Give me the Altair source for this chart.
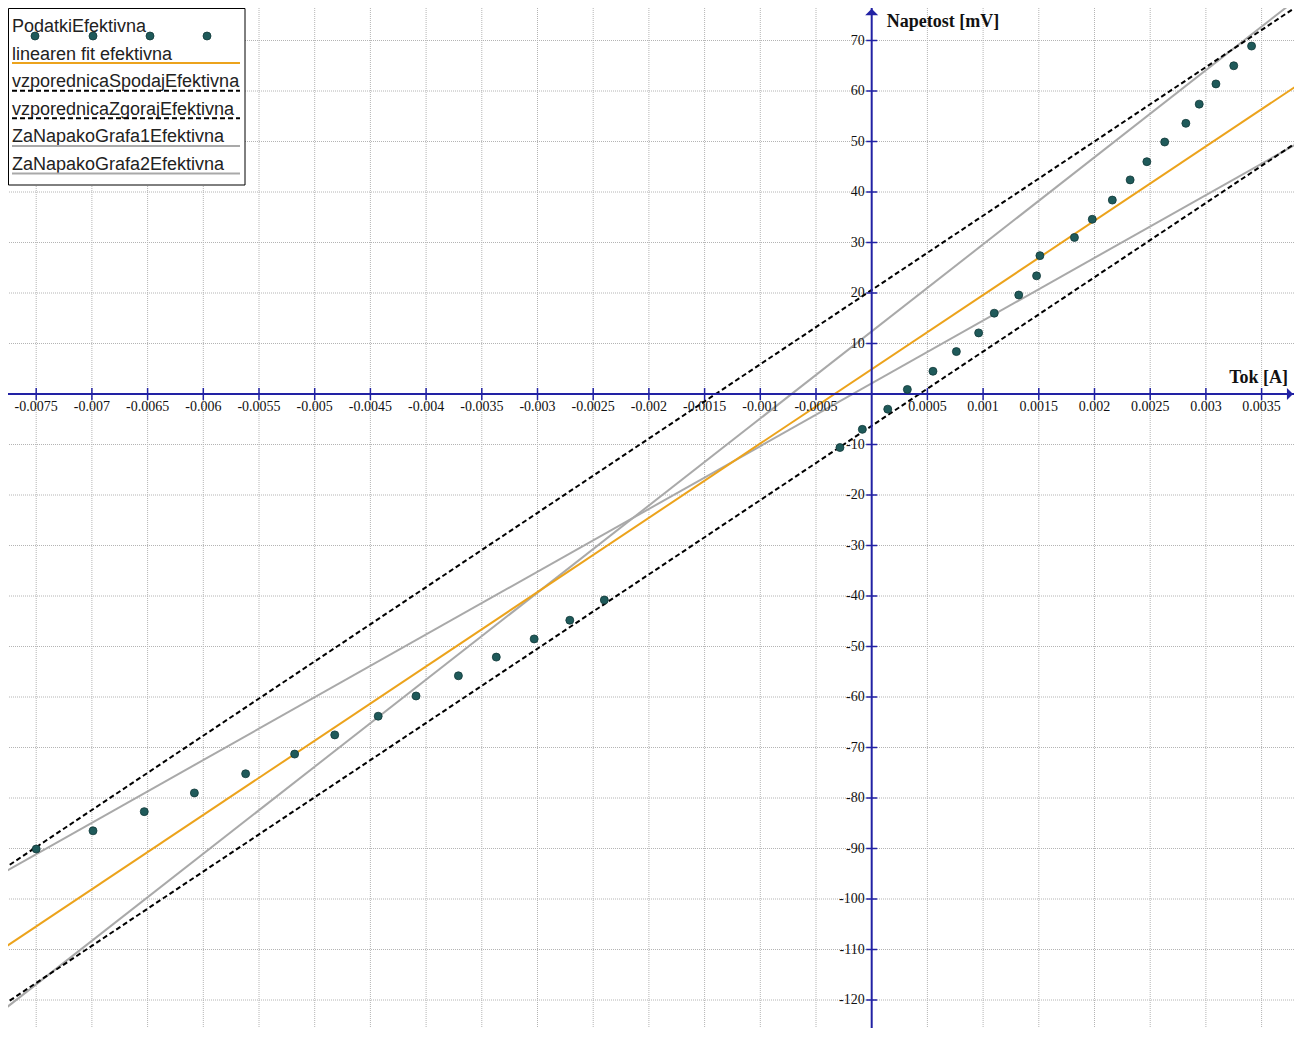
import altair as alt
import pandas as pd

# ---------------- data ----------------
tok = [-0.00750, -0.00699, -0.00653, -0.00608, -0.00562, -0.00518, -0.00482,
       -0.00443, -0.00409, -0.00371, -0.00337, -0.00303, -0.00271, -0.00240,
       -0.000285, -0.000084, 0.000144, 0.00032, 0.00055, 0.00076, 0.00096,
       0.00110, 0.00132, 0.00148, 0.00151, 0.00182, 0.00198, 0.00216, 0.00232,
       0.00247, 0.00263, 0.00282, 0.00294, 0.00309, 0.00325, 0.00341]
napetost = [-90.1, -86.5, -82.7, -79.0, -75.2, -71.3, -67.5, -63.8, -59.8,
            -55.8, -52.1, -48.5, -44.8, -40.8, -10.6, -7.0, -3.0, 0.9, 4.5,
            8.4, 12.1, 16.0, 19.6, 23.4, 27.4, 31.0, 34.6, 38.4, 42.4, 46.0,
            49.9, 53.6, 57.4, 61.4, 65.0, 68.9]

x_ticks = [-0.0075, -0.007, -0.0065, -0.006, -0.0055, -0.005, -0.0045, -0.004,
           -0.0035, -0.003, -0.0025, -0.002, -0.0015, -0.001, -0.0005,
           0.0005, 0.001, 0.0015, 0.002, 0.0025, 0.003, 0.0035]
x_tick_labels = ["-0.0075", "-0.007", "-0.0065", "-0.006", "-0.0055", "-0.005",
                 "-0.0045", "-0.004", "-0.0035", "-0.003", "-0.0025", "-0.002",
                 "-0.0015", "-0.001", "-0.0005", "0.0005", "0.001", "0.0015",
                 "0.002", "0.0025", "0.003", "0.0035"]
y_ticks = [-120, -110, -100, -90, -80, -70, -60, -50, -40, -30, -20, -10,
           10, 20, 30, 40, 50, 60, 70]
y_tick_labels = ["-120", "-110", "-100", "-90", "-80", "-70", "-60", "-50",
                 "-40", "-30", "-20", "-10", "10", "20", "30", "40", "50",
                 "60", "70"]

# straight lines: (slope mV/A, intercept mV)
fit_k, fit_n = 14710.0, 4.9
spodaj_k, spodaj_n = 14710.0, -6.3
zgoraj_k, zgoraj_n = 14710.0, 20.6
g1_k, g1_n = 17240.0, 12.4
g2_k, g2_n = 12430.0, 2.1

legend_names = ["PodatkiEfektivna", "linearen fit efektivna",
                "vzporednicaSpodajEfektivna", "vzporednicaZgorajEfektivna",
                "ZaNapakoGrafa1Efektivna", "ZaNapakoGrafa2Efektivna"]

# ---------------- layout ----------------
W, H = 1286, 1020
XPX = 111400.0   # px per A
YPX = 5.05       # px per mV
XMIN = -863.7 / XPX
XMAX = XMIN + W / XPX
YMAX = 386.0 / YPX
YMIN = YMAX - H / YPX

AX = "#2222a4"
ORANGE = "#eca31c"
GRAY = "#a9a9a9"
PT = "#1f5a5a"
GRID = "#b4b4b4"

xs = alt.Scale(domain=[XMIN, XMAX], nice=False, zero=False)
ys = alt.Scale(domain=[YMIN, YMAX], nice=False, zero=False)


def ex(f):
    return alt.X(f, type="quantitative", scale=xs, axis=None)


def ey(f):
    return alt.Y(f, type="quantitative", scale=ys, axis=None)


def line_df(k, n):
    xx = [XMIN - 0.001, XMAX + 0.001]
    return pd.DataFrame({"x": xx, "y": [k * v + n for v in xx]})


one = pd.DataFrame({"a": [0]})
layers = []

# grid
layers.append(alt.Chart(pd.DataFrame({"v": x_ticks})).mark_rule(
    color=GRID, strokeDash=[1, 1], strokeWidth=1).encode(x=ex("v")))
layers.append(alt.Chart(pd.DataFrame({"v": y_ticks})).mark_rule(
    color=GRID, strokeDash=[1, 1], strokeWidth=1).encode(y=ey("v")))

# fitted / helper lines
layers.append(alt.Chart(line_df(g1_k, g1_n)).mark_line(
    clip=True, color=GRAY, strokeWidth=2).encode(x=ex("x"), y=ey("y")))
layers.append(alt.Chart(line_df(g2_k, g2_n)).mark_line(
    clip=True, color=GRAY, strokeWidth=2).encode(x=ex("x"), y=ey("y")))
layers.append(alt.Chart(line_df(fit_k, fit_n)).mark_line(
    clip=True, color=ORANGE, strokeWidth=2).encode(x=ex("x"), y=ey("y")))
layers.append(alt.Chart(line_df(spodaj_k, spodaj_n)).mark_line(
    clip=True, color="black", strokeWidth=2, strokeDash=[5, 3]).encode(x=ex("x"), y=ey("y")))
layers.append(alt.Chart(line_df(zgoraj_k, zgoraj_n)).mark_line(
    clip=True, color="black", strokeWidth=2, strokeDash=[5, 3]).encode(x=ex("x"), y=ey("y")))

# axes through origin
zero = pd.DataFrame({"v": [0]})
layers.append(alt.Chart(zero).mark_rule(color=AX, strokeWidth=2).encode(y=ey("v")))
layers.append(alt.Chart(zero).mark_rule(color=AX, strokeWidth=2).encode(x=ex("v")))

xt = pd.DataFrame({"v": x_ticks, "z": [0] * len(x_ticks), "lab": x_tick_labels})
yt = pd.DataFrame({"v": y_ticks, "z": [0] * len(y_ticks), "lab": y_tick_labels})
layers.append(alt.Chart(xt).mark_tick(orient="vertical", size=12, thickness=1.5,
                                      color=AX, opacity=1).encode(x=ex("v"), y=ey("z")))
layers.append(alt.Chart(yt).mark_tick(orient="horizontal", size=11, thickness=1.5,
                                      color=AX, opacity=1).encode(y=ey("v"), x=ex("z")))
layers.append(alt.Chart(xt).mark_text(align="center", baseline="top", dy=6,
                                      font="Liberation Serif", fontSize=14,
                                      color="#111").encode(x=ex("v"), y=ey("z"), text="lab:N"))
layers.append(alt.Chart(yt).mark_text(align="right", baseline="middle", dx=-7,
                                      font="Liberation Serif", fontSize=14,
                                      color="#111").encode(y=ey("v"), x=ex("z"), text="lab:N"))

# arrow heads
layers.append(alt.Chart(pd.DataFrame({"x": [XMAX - 4.0 / XPX], "y": [0]})).mark_point(
    shape="M0.5,0L-0.5,-1L-0.5,1Z", size=150, filled=True, color=AX, opacity=1
).encode(x=ex("x"), y=ey("y")))
layers.append(alt.Chart(pd.DataFrame({"x": [0], "y": [YMAX - 4.0 / YPX]})).mark_point(
    shape="M0,-0.5L1,0.5L-1,0.5Z", size=170, filled=True, color=AX, opacity=1
).encode(x=ex("x"), y=ey("y")))

# axis titles
layers.append(alt.Chart(pd.DataFrame({"x": [XMAX], "y": [0]})).mark_text(
    text="Tok [A]", align="right", baseline="alphabetic", dx=-6, dy=-11,
    font="Liberation Serif", fontWeight="bold", fontSize=18, color="#111"
).encode(x=ex("x"), y=ey("y")))
layers.append(alt.Chart(pd.DataFrame({"x": [0], "y": [YMAX]})).mark_text(
    text="Napetost [mV]", align="left", baseline="alphabetic", dx=15, dy=19,
    font="Liberation Serif", fontWeight="bold", fontSize=18, color="#111"
).encode(x=ex("x"), y=ey("y")))

# data points
pts = pd.DataFrame({"tok": tok, "u": napetost})
layers.append(alt.Chart(pts).mark_circle(size=64, color=PT, opacity=1,
                                         stroke="#123838", strokeWidth=0.8).encode(
    x=ex("tok"), y=ey("u")))

# ---------------- legend (manual) ----------------
layers.append(alt.Chart(one).mark_rect(fill="white", stroke="black", strokeWidth=1).encode(
    x=alt.value(0.5), x2=alt.value(237), y=alt.value(0.5), y2=alt.value(177)))
row_base = 24
row_step = 27.6
for i, name in enumerate(legend_names):
    layers.append(alt.Chart(one).mark_text(
        text=name, align="left", baseline="alphabetic", font="Liberation Sans",
        fontSize=18, color="#222").encode(
        x=alt.value(4), y=alt.value(row_base + i * row_step)))
styles = [(ORANGE, None), ("black", [5, 3]), ("black", [5, 3]), (GRAY, None), (GRAY, None)]
for j, (col, dash) in enumerate(styles):
    yv = row_base + (j + 1) * row_step + 3.5
    kw = dict(color=col, strokeWidth=2)
    if dash is not None:
        kw["strokeDash"] = dash
    layers.append(alt.Chart(one).mark_rule(**kw).encode(
        x=alt.value(4), x2=alt.value(232), y=alt.value(yv)))
for xv in [27, 85, 142, 199]:
    layers.append(alt.Chart(one).mark_circle(size=64, color=PT, opacity=1,
                                             stroke="#123838", strokeWidth=0.8).encode(
        x=alt.value(xv), y=alt.value(28)))

chart = alt.layer(*layers).properties(
    width=W, height=H, padding=0,
    autosize=alt.AutoSizeParams(type="none"),
    background="white",
).configure_view(stroke=None)

chart.save("out.html", embed_options={"renderer": "svg", "actions": False})
